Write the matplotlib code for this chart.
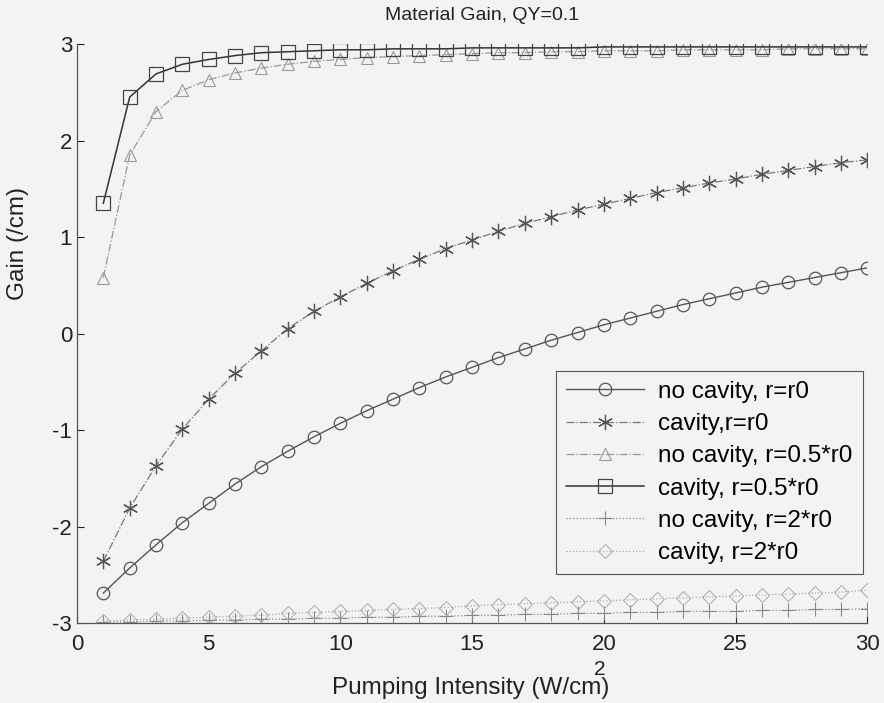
import matplotlib
matplotlib.use("Agg")
import matplotlib.pyplot as plt
import numpy as np

plt.rcParams['font.family'] = ['Liberation Sans', 'DejaVu Sans']
plt.rcParams['axes.unicode_minus'] = False

# pumping intensity steps (W/cm^2)
intensity = np.arange(1, 31)

# material gain (/cm) for each configuration
gain_nocav_r0 = [-2.69, -2.43, -2.19, -1.96, -1.76, -1.56, -1.38, -1.22, -1.07, -0.93,
                 -0.80, -0.68, -0.56, -0.45, -0.35, -0.25, -0.16, -0.07, 0.01, 0.09,
                 0.16, 0.23, 0.30, 0.36, 0.42, 0.48, 0.53, 0.58, 0.63, 0.68]
gain_cav_r0 = [-2.36, -1.81, -1.37, -0.99, -0.68, -0.41, -0.18, 0.05, 0.23, 0.38,
               0.52, 0.65, 0.77, 0.88, 0.97, 1.06, 1.14, 1.21, 1.28, 1.34,
               1.40, 1.46, 1.51, 1.56, 1.60, 1.65, 1.69, 1.73, 1.77, 1.80]
gain_nocav_half = [0.58, 1.85, 2.30, 2.52, 2.63, 2.70, 2.75, 2.79, 2.82, 2.84,
                   2.86, 2.87, 2.88, 2.89, 2.90, 2.91, 2.91, 2.92, 2.92, 2.93,
                   2.93, 2.93, 2.94, 2.94, 2.94, 2.94, 2.95, 2.95, 2.95, 2.95]
gain_cav_half = [1.35, 2.45, 2.69, 2.79, 2.84, 2.88, 2.91, 2.92, 2.93, 2.94,
                 2.94, 2.95, 2.95, 2.95, 2.96, 2.96, 2.96, 2.96, 2.96, 2.97,
                 2.97, 2.97, 2.97, 2.97, 2.97, 2.97, 2.97, 2.97, 2.97, 2.97]
gain_nocav_2r0 = [-2.99, -2.99, -2.98, -2.98, -2.97, -2.97, -2.96, -2.96, -2.95, -2.95,
                  -2.94, -2.94, -2.93, -2.93, -2.92, -2.92, -2.91, -2.91, -2.90, -2.90,
                  -2.89, -2.89, -2.88, -2.88, -2.88, -2.87, -2.87, -2.86, -2.86, -2.85]
gain_cav_2r0 = [-2.98, -2.97, -2.96, -2.95, -2.94, -2.93, -2.92, -2.90, -2.89, -2.88,
                -2.87, -2.86, -2.85, -2.84, -2.82, -2.81, -2.80, -2.79, -2.78, -2.77,
                -2.76, -2.75, -2.74, -2.73, -2.72, -2.71, -2.70, -2.69, -2.68, -2.66]

labels = ['no cavity, r=r0', 'cavity,r=r0', 'no cavity, r=0.5*r0',
          'cavity, r=0.5*r0', 'no cavity, r=2*r0', 'cavity, r=2*r0']

bg = '#f3f3f1'
fig = plt.figure(figsize=(8.84, 7.03), dpi=100, facecolor=bg)
ax = fig.add_axes([0.0871, 0.1138, 0.894, 0.8236], facecolor=bg)

asterisk = (6, 2, 0)
ax.plot(intensity, gain_nocav_r0, '-', color='#555555', lw=1.0, marker='o', ms=9,
        mfc='none', mec='#555555', mew=0.9, label=labels[0])
ax.plot(intensity, gain_cav_r0, '-.', color='#777777', lw=0.9, marker=asterisk, ms=11,
        mfc='none', mec='#555555', mew=0.9, label=labels[1])
ax.plot(intensity, gain_nocav_half, '-.', color='#999999', lw=0.9, marker='^', ms=9,
        mfc='none', mec='#999999', mew=0.8, label=labels[2])
ax.plot(intensity, gain_cav_half, '-', color='#333333', lw=1.1, marker='s', ms=10,
        mfc='none', mec='#444444', mew=0.9, label=labels[3])
ax.plot(intensity, gain_nocav_2r0, ':', color='#888888', lw=0.9, marker='+', ms=10,
        mfc='none', mec='#888888', mew=0.8, label=labels[4])
ax.plot(intensity, gain_cav_2r0, ':', color='#aaaaaa', lw=0.9, marker='D', ms=7,
        mfc='none', mec='#aaaaaa', mew=0.7, label=labels[5])

ax.set_xlim(0, 30)
ax.set_ylim(-3, 3)
ax.set_xticks([0, 5, 10, 15, 20, 25, 30])
ax.set_yticks([-3, -2, -1, 0, 1, 2, 3])
ax.tick_params(direction='in', length=5, width=0.8, labelsize=16, colors='#222222')
ax.tick_params(axis='x', pad=8)
ax.spines['top'].set_visible(False)
ax.spines['right'].set_visible(False)
for s in ('left', 'bottom'):
    ax.spines[s].set_color('#555555')
    ax.spines[s].set_linewidth(0.9)

leg = ax.legend(loc='lower right', bbox_to_anchor=(0.994, 0.085), borderaxespad=0,
                fontsize=17.5, handlelength=3.2, labelspacing=0.42, handletextpad=0.6,
                borderpad=0.4, fancybox=False, frameon=True, framealpha=1)
leg.get_frame().set_facecolor(bg)
leg.get_frame().set_edgecolor('#555555')
leg.get_frame().set_linewidth(0.8)

fig.text(0.545, 0.978, 'Material Gain, QY=0.1', ha='center', va='center',
         fontsize=14, color='#222222')
fig.text(0.020, 0.654, 'Gain (/cm)', ha='center', va='center', rotation=90,
         fontsize=17.5, color='#222222')
# axis label with a loose superscript sitting over the "m"
fig.text(0.532, 0.021, 'Pumping Intensity (W/cm)', ha='center', va='center',
         fontsize=17.5, color='#222222')
fig.text(0.679, 0.047, '2', ha='center', va='center', fontsize=15, color='#222222')

fig.savefig('out.png', dpi=100, facecolor=bg)
